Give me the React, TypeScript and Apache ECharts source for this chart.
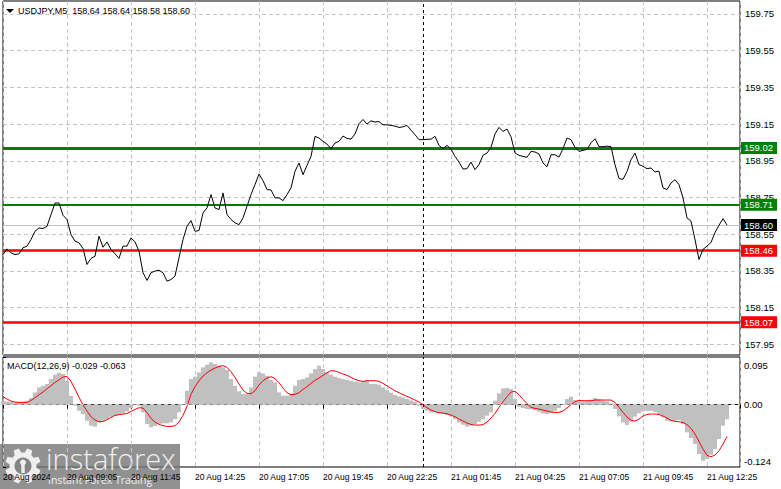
import React, { useEffect, useRef } from "react";
import * as echarts from "echarts";

// ---------- data ----------
const SYMBOL = "USDJPY,M5";
const OHLC = [158.64, 158.64, 158.58, 158.6];
const MACD_NAME = "MACD(12,26,9)";
const MACD_LAST = [-0.029, -0.063];

const TIME_LABELS = [
  "20 Aug 2024", "20 Aug 09:05", "20 Aug 11:45", "20 Aug 14:25", "20 Aug 17:05", "20 Aug 19:45",
  "20 Aug 22:25", "21 Aug 01:45", "21 Aug 04:25", "21 Aug 07:05", "21 Aug 09:45", "21 Aug 12:25",
];
const PRICE_TICKS = [159.75, 159.55, 159.35, 159.15, 158.95, 158.75, 158.55, 158.35, 158.15, 157.95];
const MACD_TICKS = [0.095, 0, -0.124];

const RESISTANCE_MAIN = 159.02;
const RESISTANCE_SUB = 158.71;
const SUPPORTS = [158.46, 158.07];
const BID = 158.6;
const DAY_SEPARATOR = 105; // sample index of 21 Aug 00:00

// closing prices, one sample every two M5 bars
const PRICES = [
  158.439, 158.47, 158.448, 158.439, 158.443, 158.476, 158.485, 158.521, 158.566, 158.584,
  158.581, 158.593, 158.657, 158.72, 158.72, 158.653, 158.63, 158.548, 158.512, 158.503,
  158.472, 158.385, 158.418, 158.43, 158.539, 158.479, 158.508, 158.467, 158.443, 158.418,
  158.485, 158.485, 158.53, 158.508, 158.457, 158.34, 158.298, 158.34, 158.349, 158.354,
  158.34, 158.294, 158.303, 158.322, 158.421, 158.521, 158.593, 158.624, 158.566, 158.57,
  158.666, 158.693, 158.766, 158.693, 158.684, 158.775, 158.657, 158.63, 158.612, 158.602,
  158.639, 158.702,
  158.766, 158.82, 158.878, 158.842, 158.793, 158.791, 158.748, 158.748, 158.733, 158.766,
  158.802, 158.893, 158.938, 158.874, 158.925, 158.974, 159.083, 159.074, 159.056, 159.041,
  159.016, 159.047, 159.056, 159.085, 159.072, 159.068, 159.096, 159.152, 159.175, 159.15,
  159.168, 159.161, 159.164, 159.146, 159.146, 159.143, 159.139, 159.132, 159.135, 159.143,
  159.117, 159.092, 159.065, 159.065, 159.067, 159.068, 159.083, 159.034, 159.016, 159.034,
  159.014, 158.974, 158.943, 158.905, 158.907, 158.943, 158.902, 158.929, 158.98, 158.992,
  159.023, 159.096, 159.132, 159.11, 159.123, 159.081, 158.992, 158.98, 158.974, 158.969,
  159.001, 158.998, 158.987, 158.938, 158.918, 158.983, 158.983, 158.97, 159.016, 159.074,
  159.065, 159.023, 159.001, 159.007, 159.012, 159.048, 159.07, 159.027, 159.027, 159.03,
  159.027, 158.929, 158.853, 158.849, 158.891, 158.956, 158.992, 158.929, 158.92, 158.907,
  158.911, 158.889, 158.893, 158.802, 158.793, 158.829, 158.847, 158.82, 158.748, 158.639,
  158.621, 158.521, 158.412, 158.467, 158.485, 158.505, 158.559, 158.599, 158.635, 158.6,
];

const MACD_HIST = [
  0.0066, 0.0066, 0.0053, 0.0046, 0.0046, 0.006, 0.008, 0.0133, 0.0246, 0.0345,
  0.0378, 0.0412, 0.0511, 0.0598, 0.0637, 0.0611, 0.0478, 0.0179, -0.002, -0.012,
  -0.0186, -0.0319, -0.0418, -0.0438, -0.0352, -0.0319, -0.0286, -0.0239, -0.0219, -0.0199,
  -0.0173, -0.0133, -0.0066, 0.0013, -0.002, -0.0153, -0.0385, -0.0452, -0.0425, -0.0385,
  -0.0372, -0.0372, -0.0352, -0.0286, -0.0153, 0.0013, 0.0279, 0.0511, 0.0558, 0.0644,
  0.0744, 0.0797, 0.0843, 0.081, 0.0777, 0.0744, 0.0691, 0.0511, 0.0378, 0.0266,
  0.0212, 0.0212, 0.0345, 0.0558, 0.0644, 0.0624, 0.0578, 0.0491, 0.0445, 0.0246,
  0.0179, 0.0179, 0.0212, 0.0378, 0.0491, 0.0511, 0.0544, 0.0624, 0.071, 0.0777,
  0.071, 0.0644, 0.0598, 0.0558, 0.0531, 0.0511, 0.0491, 0.0478, 0.0458, 0.0445,
  0.0465, 0.0491, 0.0412, 0.0412, 0.0398, 0.0345, 0.0292, 0.0239, 0.0193, 0.0166,
  0.0146, 0.0113, 0.0086, 0.006, -0.002, -0.0086, -0.012, -0.0153, -0.0153, -0.0166,
  -0.0186, -0.0206, -0.0232, -0.0286, -0.0352, -0.0398, -0.0438, -0.0412, -0.0385, -0.0339,
  -0.0286, -0.0219, -0.0153, 0.008, 0.0226, 0.0325, 0.0332, 0.0312, 0.0113, -0.004,
  -0.0066, -0.0086, -0.0093, -0.0106, -0.0139, -0.0173, -0.0186, -0.0159, -0.012, -0.0066,
  0.0013, 0.0113, 0.0159, 0.0093, 0.0066, 0.0066, 0.008, 0.01, 0.0133, 0.0113,
  0.008, 0.0066, 0.0027, -0.0086, -0.0232, -0.0352, -0.0405, -0.0332, -0.0239, -0.0173,
  -0.0133, -0.012, -0.012, -0.0146, -0.0186, -0.0252, -0.0319, -0.0332, -0.0319, -0.0305,
  -0.0385, -0.0551, -0.0664, -0.0784, -0.0983, -0.1116, -0.1082, -0.0996, -0.0883, -0.0684,
  -0.0418, -0.029,
];

const MACD_SIGNAL = [
  0.0159, 0.0113, 0.0073, 0.0053, 0.0046, 0.0046, 0.0046, 0.0086, 0.0139, 0.0199,
  0.0252, 0.0319, 0.0378, 0.0445, 0.0498, 0.0551, 0.0564, 0.0465, 0.0312, 0.0146,
  0.0, -0.0126, -0.0239, -0.0305, -0.0339, -0.0332, -0.0299, -0.0252, -0.0212, -0.0199,
  -0.0186, -0.0173, -0.0133, -0.0093, -0.006, -0.0066, -0.0159, -0.0272, -0.0345, -0.0392,
  -0.0418, -0.0432, -0.0432, -0.0418, -0.0345, -0.0212, -0.0033, 0.0206, 0.0359, 0.0478,
  0.0571, 0.0637, 0.0691, 0.073, 0.0764, 0.0777, 0.0744, 0.0657, 0.0544, 0.0412,
  0.0292, 0.0226, 0.0219, 0.0279, 0.0392, 0.0478, 0.0531, 0.0558, 0.0518, 0.0438,
  0.0332, 0.0239, 0.0199, 0.0206, 0.0239, 0.0305, 0.0359, 0.0425, 0.0485, 0.0531,
  0.0584, 0.0637, 0.0677, 0.0671, 0.0644, 0.0611, 0.0584, 0.0544, 0.0505, 0.0478,
  0.0465, 0.0478, 0.0478, 0.0478, 0.0465, 0.0425, 0.0378, 0.0325, 0.0279, 0.0239,
  0.0199, 0.0166, 0.0133, 0.0093, 0.0053, 0.0, -0.006, -0.0106, -0.0139, -0.0159,
  -0.0166, -0.0179, -0.0206, -0.0239, -0.0286, -0.0325, -0.0365, -0.0392, -0.0405, -0.0405,
  -0.0398, -0.0345, -0.0266, -0.0173, -0.0053, 0.006, 0.0159, 0.0252, 0.0266, 0.0199,
  0.0106, 0.002, -0.0053, -0.0073, -0.0086, -0.0106, -0.0126, -0.0146, -0.0153, -0.0153,
  -0.0126, -0.0066, 0.0, 0.006, 0.0086, 0.008, 0.008, 0.008, 0.0093, 0.0093,
  0.0093, 0.0093, 0.0093, 0.0046, -0.0053, -0.0153, -0.0246, -0.0312, -0.0325, -0.0286,
  -0.0226, -0.0193, -0.0186, -0.0186, -0.0193, -0.0226, -0.0266, -0.0312, -0.0332, -0.0339,
  -0.0352, -0.0398, -0.0471, -0.0584, -0.073, -0.0883, -0.1009, -0.1036, -0.1003, -0.0916,
  -0.0784, -0.063,
];

// ---------- layout ----------
const FONT = "'Liberation Sans', Arial, sans-serif";
const W = 781;
const H = 489;
const X_MAX = 184.25; // plot width / px per sample
const LABEL_STEP = 16; // samples between time labels
const PRICE_MIN = 157.8917;
const PRICE_MAX = 159.8208;
const MACD_MIN = -0.124;
const MACD_MAX = 0.095;
const GRID_COLOR = "#c4c4c4";
const GREEN = "#008000";
const RED = "#ff0000";

function buildOption() {
  const xCommon = {
    type: "value" as const,
    min: 0,
    max: X_MAX,
    interval: LABEL_STEP,
    splitLine: { show: true, lineStyle: { color: GRID_COLOR, type: [4, 3], width: 1 } },
  };
  const levelItem = (v: number, color: string, width: number, labelBg: string) => ({
    yAxis: v,
    lineStyle: { color, width, type: "solid" },
    label: {
      show: true,
      position: "end",
      distance: 1,
      formatter: v.toFixed(2),
      backgroundColor: labelBg,
      color: "#fff",
      fontFamily: FONT,
      fontSize: 9.5,
      lineHeight: 10,
      padding: [1, 4, 1, 3],
    },
  });

  // gear logo outline
  const cx = 23;
  const cy = 466;
  const gear: number[][] = [];
  for (let k = 0; k < 8; k++) {
    const a = (k * Math.PI) / 4 + Math.PI / 8;
    for (const [da, r] of [[-0.27, 13.5], [-0.15, 18], [0.15, 18], [0.27, 13.5]]) {
      gear.push([cx + r * Math.cos(a + da), cy + r * Math.sin(a + da)]);
    }
  }

  const macdTickText = (v: number) => (v === 0 ? "0.00" : v.toFixed(3));

  return {
    animation: false,
    backgroundColor: "#fff",
    grid: [
      { left: 3, right: 41, top: 1, height: 354, show: true, borderColor: "#000", borderWidth: 1 },
      { left: 3, right: 41, top: 357, height: 110, show: true, borderColor: "#000", borderWidth: 1 },
    ],
    xAxis: [
      { ...xCommon, gridIndex: 0, axisLine: { show: false }, axisTick: { show: false }, axisLabel: { show: false } },
      {
        ...xCommon,
        gridIndex: 1,
        axisLine: { show: true, lineStyle: { color: "#000", width: 1 } },
        axisTick: { show: true, length: 4, lineStyle: { color: "#000" } },
        axisLabel: {
          show: true,
          align: "left",
          margin: 5,
          color: "#000",
          fontFamily: FONT,
          fontSize: 8.5,
          formatter: (v: number) => {
            const k = Math.round(v / LABEL_STEP);
            return Math.abs(v - k * LABEL_STEP) < 1e-6 && k < TIME_LABELS.length ? TIME_LABELS[k] : "";
          },
        },
      },
    ],
    yAxis: [
      {
        type: "value",
        gridIndex: 0,
        position: "right",
        min: PRICE_MIN,
        max: PRICE_MAX,
        axisLine: { show: false },
        splitLine: { show: false },
        axisTick: { show: true, length: 3, customValues: PRICE_TICKS, lineStyle: { color: "#000" } },
        axisLabel: {
          show: true,
          customValues: PRICE_TICKS,
          margin: 5,
          color: "#000",
          fontFamily: FONT,
          fontSize: 9.5,
          formatter: (v: number) => v.toFixed(2),
        },
      },
      {
        type: "value",
        gridIndex: 1,
        position: "right",
        min: MACD_MIN,
        max: MACD_MAX,
        axisLine: { show: false },
        splitLine: { show: false },
        axisTick: { show: true, length: 3, customValues: MACD_TICKS, lineStyle: { color: "#000" } },
        axisLabel: {
          show: true,
          customValues: MACD_TICKS,
          margin: 4,
          color: "#000",
          fontFamily: FONT,
          fontSize: 9.5,
          formatter: (v: number) =>
            v >= MACD_MAX - 1e-9
              ? `{t|${macdTickText(v)}}`
              : v <= MACD_MIN + 1e-9
              ? `{b|${macdTickText(v)}}`
              : macdTickText(v),
          rich: {
            t: { padding: [16, 0, 0, 0], fontFamily: FONT, fontSize: 9.5, color: "#000" },
            b: { padding: [0, 0, 12, 0], fontFamily: FONT, fontSize: 9.5, color: "#000" },
          },
        },
      },
    ],
    series: [
      {
        type: "line",
        xAxisIndex: 0,
        yAxisIndex: 0,
        data: [],
        z: 1,
        silent: true,
        markLine: {
          silent: true,
          symbol: ["none", "none"],
          label: { show: false },
          lineStyle: { color: GRID_COLOR, type: [4, 3], width: 1 },
          data: [
            ...PRICE_TICKS.map((v) => ({ yAxis: v })),
            { xAxis: DAY_SEPARATOR, lineStyle: { color: "#000", type: [3, 3], width: 1 } },
          ],
        },
      },
      {
        type: "line",
        xAxisIndex: 0,
        yAxisIndex: 0,
        data: [],
        z: 3,
        silent: true,
        markLine: {
          silent: true,
          symbol: ["none", "none"],
          data: [
            levelItem(BID, "#c0c0c0", 1, "#000"),
            levelItem(RESISTANCE_MAIN, GREEN, 3, GREEN),
            levelItem(RESISTANCE_SUB, GREEN, 2, GREEN),
            ...SUPPORTS.map((v) => levelItem(v, RED, 2.5, RED)),
          ],
        },
      },
      {
        type: "line",
        name: SYMBOL,
        xAxisIndex: 0,
        yAxisIndex: 0,
        z: 5,
        showSymbol: false,
        data: PRICES.map((p, i) => [i, p]),
        lineStyle: { color: "#000", width: 1 },
      },
      {
        type: "line",
        xAxisIndex: 1,
        yAxisIndex: 1,
        data: [],
        z: 1,
        silent: true,
        markLine: {
          silent: true,
          symbol: ["none", "none"],
          label: { show: false },
          lineStyle: { color: GRID_COLOR, type: [4, 3], width: 1 },
          data: [
            { yAxis: 0 },
            { xAxis: DAY_SEPARATOR, lineStyle: { color: "#000", type: [3, 3], width: 1 } },
          ],
        },
      },
      {
        type: "bar",
        name: "MACD",
        xAxisIndex: 1,
        yAxisIndex: 1,
        z: 2,
        barWidth: 4,
        data: MACD_HIST.map((v, i) => [i, v]),
        itemStyle: { color: "#c0c0c0" },
      },
      {
        type: "line",
        name: "Signal",
        xAxisIndex: 1,
        yAxisIndex: 1,
        z: 4,
        showSymbol: false,
        data: MACD_SIGNAL.map((v, i) => [i, v]),
        lineStyle: { color: RED, width: 1 },
      },
    ],
    graphic: [
      {
        type: "polygon",
        z: 50,
        shape: { points: [[6, 9], [14, 9], [10, 13]] },
        style: { fill: "#000" },
      },
      {
        type: "text",
        z: 50,
        x: 18,
        y: 11,
        style: {
          text: `${SYMBOL}  ${OHLC.map((v) => v.toFixed(2)).join(" ")}`,
          fill: "#000",
          font: `9px ${FONT}`,
          verticalAlign: "middle",
        },
      },
      {
        type: "text",
        z: 50,
        x: 7,
        y: 366,
        style: {
          text: `${MACD_NAME} ${MACD_LAST.map((v) => v.toFixed(3)).join(" ")}`,
          fill: "#000",
          font: `9px ${FONT}`,
          verticalAlign: "middle",
        },
      },
      // watermark
      {
        type: "group",
        z: 100,
        children: [
          { type: "rect", shape: { x: 0, y: 444, width: 180, height: 45 }, style: { fill: "rgba(118,118,118,0.8)" } },
          { type: "polygon", shape: { points: gear }, style: { fill: "#efefef" } },
          { type: "circle", shape: { cx, cy, r: 8.5 }, style: { fill: "#858585" } },
          { type: "circle", shape: { cx, cy: cy - 3.5, r: 3 }, style: { fill: "#efefef" } },
          { type: "rect", shape: { x: cx - 1.7, y: cy - 1, width: 3.4, height: 8 }, style: { fill: "#efefef" } },
          {
            type: "text",
            x: 46,
            y: 458,
            style: {
              text: "instaforex",
              fill: "#efefef",
              font: `300 29px 'Open Sans', sans-serif`,
              verticalAlign: "middle",
            },
          },
          {
            type: "text",
            x: 48,
            y: 480,
            style: {
              text: "Instant Forex Trading",
              fill: "#efefef",
              font: `10.5px 'Open Sans', sans-serif`,
              verticalAlign: "middle",
            },
          },
        ],
      },
    ],
  };
}

export default function App() {
  const ref = useRef<HTMLDivElement>(null);
  useEffect(() => {
    if (!ref.current) return;
    const chart = echarts.init(ref.current, null, { renderer: "svg" });
    chart.setOption(buildOption() as any);
    return () => chart.dispose();
  }, []);
  return (
    <div
      ref={ref}
      style={{ position: "fixed", left: 0, top: 0, width: W, height: H, background: "#fff" }}
    />
  );
}
